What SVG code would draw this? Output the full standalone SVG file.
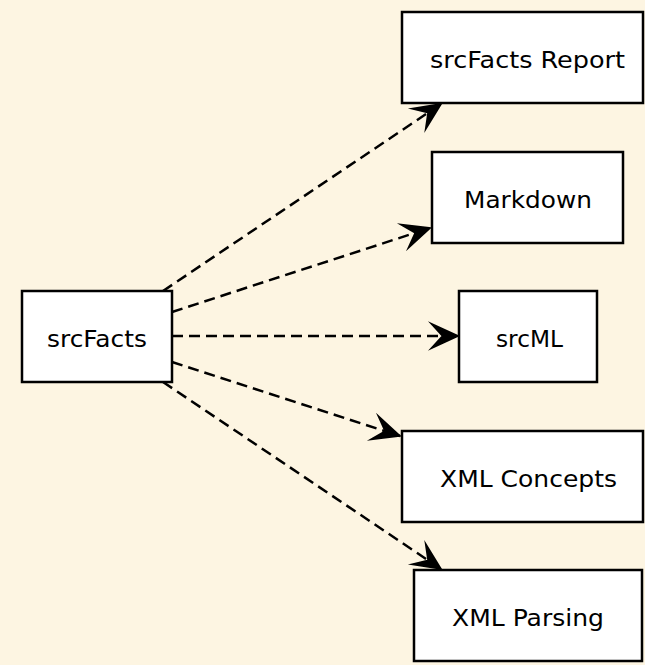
<svg xmlns="http://www.w3.org/2000/svg" width="645" height="665" viewBox="0 0 645 665">
<style>
.bg{fill:#FDF5E2}
.node rect{fill:#ffffff;stroke:#000000;stroke-width:2.5}
.node text{font-family:"DejaVu Sans",Verdana,sans-serif;font-size:23px;fill:#000000;text-anchor:middle}
.edge{fill:none;stroke:#000000;stroke-width:2.5;stroke-dasharray:11,6}
</style>
<defs>
<marker id="arr" markerWidth="40" markerHeight="40" refX="35" refY="20" orient="auto" markerUnits="userSpaceOnUse" viewBox="0 0 40 40">
<path d="M34,20 L10,9 L20,20 L10,31 Z" fill="#000" stroke="#000" stroke-width="2.5" stroke-linejoin="miter" stroke-miterlimit="6"/>
</marker>
</defs>
<rect class="bg" x="0" y="0" width="645" height="665"/>
<g id="connectors">
<line class="edge" x1="163" y1="291" x2="441" y2="104" marker-end="url(#arr)"/>
<line class="edge" x1="172" y1="312" x2="430" y2="228" marker-end="url(#arr)"/>
<line class="edge" x1="172" y1="336" x2="458" y2="336" marker-end="url(#arr)"/>
<line class="edge" x1="172" y1="362" x2="400" y2="436" marker-end="url(#arr)"/>
<line class="edge" x1="163" y1="382" x2="441" y2="569" marker-end="url(#arr)"/>
</g>
<g id="srcFacts" class="node"><rect x="22" y="291" width="150" height="91"/><text x="97" y="346.5" textLength="100" lengthAdjust="spacingAndGlyphs">srcFacts</text></g>
<g id="srcFactsReport" class="node"><rect x="402" y="12" width="241" height="91"/><text x="527.5" y="67.5" textLength="195" lengthAdjust="spacingAndGlyphs">srcFacts Report</text></g>
<g id="Markdown" class="node"><rect x="432" y="152" width="191" height="91"/><text x="528" y="207.5" textLength="128" lengthAdjust="spacingAndGlyphs">Markdown</text></g>
<g id="srcML" class="node"><rect x="459" y="291" width="138" height="91"/><text x="529.5" y="346.5" textLength="67" lengthAdjust="spacingAndGlyphs">srcML</text></g>
<g id="XMLConcepts" class="node"><rect x="402" y="431" width="241" height="91"/><text x="528.5" y="486.5" textLength="177" lengthAdjust="spacingAndGlyphs">XML Concepts</text></g>
<g id="XMLParsing" class="node"><rect x="414" y="570" width="228" height="91"/><text x="528" y="625.5" textLength="152" lengthAdjust="spacingAndGlyphs">XML Parsing</text></g>
</svg>
